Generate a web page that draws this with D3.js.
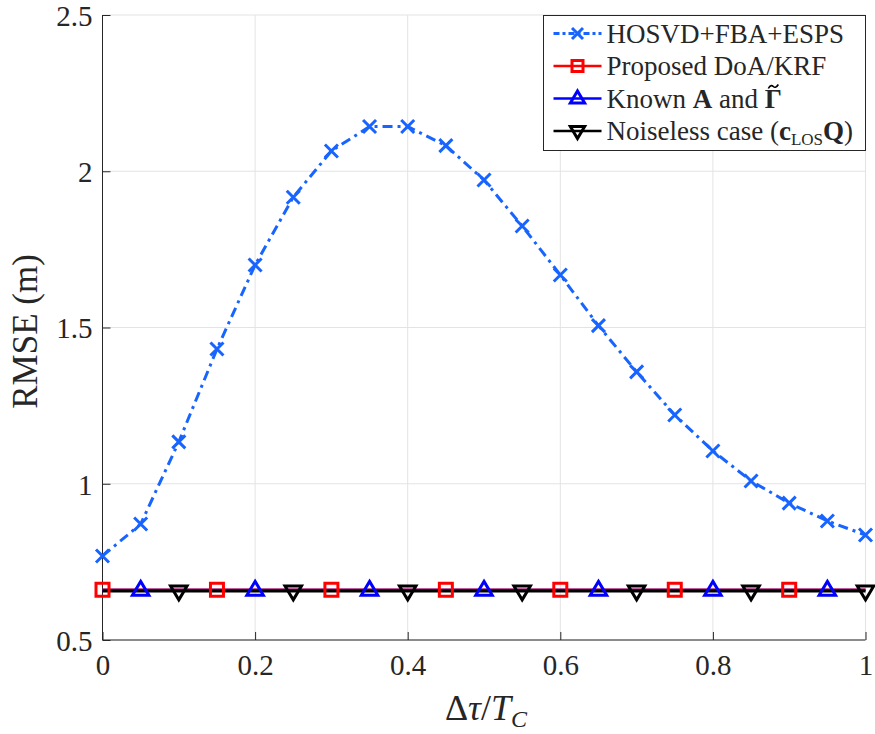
<!DOCTYPE html>
<html>
<head>
<meta charset="utf-8">
<script src="https://cdn.jsdelivr.net/npm/d3@7"></script>
<style>
  body { margin: 0; background: #fff; }
  text { font-family: "Liberation Serif", "DejaVu Serif", serif; fill: #262626; }
</style>
</head>
<body>
<div id="chart"></div>
<script>
// data
const xs = [0, 0.05, 0.1, 0.15, 0.2, 0.25, 0.3, 0.35, 0.4, 0.45, 0.5,
            0.55, 0.6, 0.65, 0.7, 0.75, 0.8, 0.85, 0.9, 0.95, 1];
const hosvd = [0.769, 0.871, 1.134, 1.431, 1.700, 1.917, 2.065, 2.143, 2.143, 2.082, 1.972,
               1.825, 1.668, 1.506, 1.358, 1.220, 1.105, 1.009, 0.938, 0.881, 0.836];
const proposed = [0.661, 0.661, 0.661, 0.661, 0.661, 0.661, 0.661, 0.661, 0.661, 0.661, 0.661,
                  0.661, 0.661, 0.661, 0.661, 0.661, 0.661, 0.661, 0.661, 0.661, 0.661];
const known = [0.660, 0.660, 0.660, 0.660, 0.660, 0.660, 0.660, 0.660, 0.660, 0.660, 0.660,
               0.660, 0.660, 0.660, 0.660, 0.660, 0.660, 0.660, 0.660, 0.660, 0.660];
const noiseless = [0.656, 0.656, 0.656, 0.656, 0.656, 0.656, 0.656, 0.656, 0.656, 0.656, 0.656,
                   0.656, 0.656, 0.656, 0.656, 0.656, 0.656, 0.656, 0.656, 0.656, 0.656];
const xTicks = [0, 0.2, 0.4, 0.6, 0.8, 1];
const yTicks = [0.5, 1, 1.5, 2, 2.5];

const width = 875, height = 734;
const margin = {top: 15, right: 10, bottom: 94, left: 102.5};
const w = 865.5 - margin.left;
const h = 640 - margin.top;

const svg = d3.select('#chart').append('svg')
    .attr('width', width)
    .attr('height', height);

const g = svg.append('g')
    .attr('transform', `translate(${margin.left}, ${margin.top})`);

const x = d3.scaleLinear().domain([0, 1]).range([0, w]);
const y = d3.scaleLinear().domain([0.5, 2.5]).range([h, 0]);

// grid
g.append('g')
  .selectAll('line')
  .data(xTicks)
  .join('line')
    .attr('x1', d => x(d)).attr('x2', d => x(d))
    .attr('y1', 0).attr('y2', h)
    .attr('stroke', '#e3e3e3').attr('stroke-width', 1);

g.append('g')
  .selectAll('line')
  .data(yTicks)
  .join('line')
    .attr('x1', 0).attr('x2', w)
    .attr('y1', d => y(d)).attr('y2', d => y(d))
    .attr('stroke', '#e3e3e3').attr('stroke-width', 1);

// axes
const xAxis = d3.axisBottom(x).tickValues(xTicks).tickSize(-8).tickPadding(14)
    .tickFormat(d3.format('~g'));
const yAxis = d3.axisLeft(y).tickValues(yTicks).tickSize(-8).tickPadding(10)
    .tickFormat(d3.format('~g'));

g.append('g')
    .attr('transform', `translate(0, ${h})`)
    .call(xAxis)
    .call(a => a.select('.domain').attr('d', `M0,0H${w}`))
    .call(a => a.selectAll('path, line').attr('stroke', '#262626'))
    .call(a => a.selectAll('text').attr('font-size', '29px')
        .attr('font-family', '"Liberation Serif", serif').attr('fill', '#262626'));

g.append('g')
    .call(yAxis)
    .call(a => a.select('.domain').attr('d', `M0,${h}V0`))
    .call(a => a.selectAll('path, line').attr('stroke', '#262626'))
    .call(a => a.selectAll('text').attr('font-size', '29px')
        .attr('font-family', '"Liberation Serif", serif').attr('fill', '#262626')
        .attr('dy', '0.36em'));

// axis labels
g.append('text')
    .attr('x', w / 2 + 2)
    .attr('y', h + 80)
    .attr('text-anchor', 'middle')
    .attr('font-size', '36px')
    .call(t => {
      t.append('tspan').text('Δ');
      t.append('tspan').attr('font-style', 'italic').text('τ');
      t.append('tspan').text('/');
      t.append('tspan').attr('font-style', 'italic').text('T');
      t.append('tspan').attr('font-style', 'italic').attr('font-size', '24px').attr('dy', 7).text('C');
    });

g.append('text')
    .attr('transform', `translate(${-margin.left + 37}, ${h / 2 + 4}) rotate(-90)`)
    .attr('text-anchor', 'middle')
    .attr('font-size', '35px')
    .text('RMSE (m)');

// series
const series = [
  {name: 'hosvd', values: hosvd, color: '#1764ff', dash: '10,5,3,5', marker: 'x', every: [1, 0]},
  {name: 'proposed', values: proposed, color: '#ff0000', dash: null, marker: 'square', every: [3, 0]},
  {name: 'known', values: known, color: '#0000ff', dash: null, marker: 'up', every: [3, 1]},
  {name: 'noiseless', values: noiseless, color: '#000000', dash: null, marker: 'down', every: [3, 2]}
];

const line = d3.line()
    .x((d, i) => x(xs[i]))
    .y(d => y(d));

function markerPath(type, s) {
  if (type === 'x') return `M${-s},${-s}L${s},${s}M${-s},${s}L${s},${-s}`;
  if (type === 'square') return `M${-s},${-s}H${s}V${s}H${-s}Z`;
  if (type === 'up') return `M0,${-s * 1.15}L${s * 1.1},${s * 0.7}H${-s * 1.1}Z`;
  if (type === 'down') return `M0,${s * 1.15}L${s * 1.1},${-s * 0.7}H${-s * 1.1}Z`;
}
const markerSize = {x: 6.5, square: 6.5, up: 7.5, down: 7.5};

series.forEach(s => {
  g.append('path')
      .datum(s.values)
      .attr('d', line)
      .attr('fill', 'none')
      .attr('stroke', s.color)
      .attr('stroke-width', s.marker === 'x' ? 3 : 2.5)
      .attr('stroke-dasharray', s.dash);
});

series.forEach(s => {
  const idx = xs.map((d, i) => i).filter(i => i % s.every[0] === s.every[1]);
  g.append('g')
    .selectAll('path')
    .data(idx)
    .join('path')
      .attr('transform', i => `translate(${x(xs[i])}, ${y(s.values[i])})`)
      .attr('d', markerPath(s.marker, markerSize[s.marker]))
      .attr('fill', 'none')
      .attr('stroke', s.color)
      .attr('stroke-width', 3);
});

// legend
const legend = svg.append('g').attr('transform', 'translate(543.5, 15.5)');
legend.append('rect')
    .attr('width', 322).attr('height', 135)
    .attr('fill', '#fff').attr('stroke', '#262626').attr('stroke-width', 1);

const labels = [
  t => t.append('tspan').text('HOSVD+FBA+ESPS'),
  t => t.append('tspan').text('Proposed DoA/KRF'),
  t => {
    t.append('tspan').text('Known ');
    t.append('tspan').attr('font-weight', 'bold').text('A');
    t.append('tspan').text(' and ');
    t.append('tspan').attr('font-weight', 'bold').text('Γ');
  },
  t => {
    t.append('tspan').text('Noiseless case (');
    t.append('tspan').attr('font-weight', 'bold').text('c');
    t.append('tspan').attr('font-size', '17px').attr('dy', 5).text('LOS');
    t.append('tspan').attr('font-weight', 'bold').attr('dy', -5).text('Q');
    t.append('tspan').text(')');
  }
];

series.forEach((s, i) => {
  const yy = 18 + i * 32.5;
  const item = legend.append('g').attr('transform', `translate(0, ${yy})`);
  item.append('line')
      .attr('x1', 10).attr('x2', 58)
      .attr('stroke', s.color)
      .attr('stroke-width', s.marker === 'x' ? 3 : 2.5)
      .attr('stroke-dasharray', s.dash ? '6,3,3,3' : null);
  item.append('path')
      .attr('transform', 'translate(34, 0)')
      .attr('d', markerPath(s.marker, markerSize[s.marker] - 1))
      .attr('fill', 'none')
      .attr('stroke', s.color)
      .attr('stroke-width', 3);
  const txt = item.append('text')
      .attr('x', 63)
      .attr('y', 9)
      .attr('font-size', '27px')
      .attr('fill', '#000')
      .call(labels[i]);
  if (i === 2) {
    // tilde accent over the Gamma, drawn as a small curve
    const node = txt.node();
    const n = node.getNumberOfChars();
    const ext = node.getExtentOfChar(n - 1);
    const cx = ext.x + ext.width / 2, ty = ext.y + 5;
    item.append('path')
        .attr('d', `M${cx - 5},${ty}C${cx - 3},${ty - 4} ${cx - 1},${ty - 3} ${cx},${ty - 2}S${cx + 3},${ty - 0.5} ${cx + 5},${ty - 4}`)
        .attr('fill', 'none')
        .attr('stroke', '#000')
        .attr('stroke-width', 1.6);
  }
});
</script>
</body>
</html>
